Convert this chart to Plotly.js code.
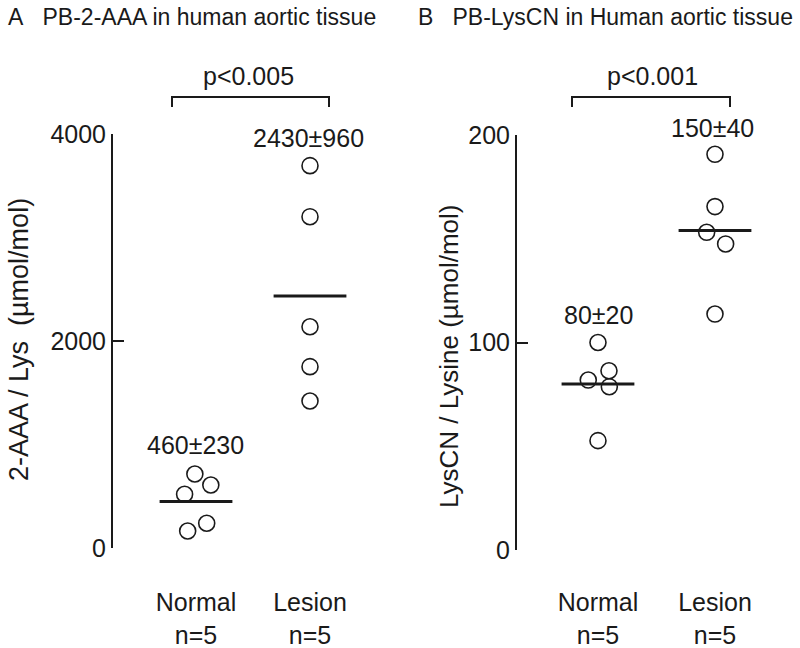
<!DOCTYPE html>
<html>
<head>
<meta charset="utf-8">
<script src="https://cdn.plot.ly/plotly-3.0.1.min.js"></script>
<style>html,body{margin:0;padding:0;background:#fff;}#chart{width:800px;height:648px;}</style>
</head>
<body>
<div id="chart"></div>
<script>
// ---- data ----
var categories = ["Normal", "Lesion"];
var categoryLabels = ["Normal<br>n=5", "Lesion<br>n=5"];

// Panel A: 2-AAA / Lys (µmol/mol)
var aNormal = [715, 609, 519, 239, 164];
var aNormalJitter = [-0.01, 0.13, -0.10, 0.094, -0.073];
var aLesion = [3694, 3201, 2138, 1752, 1420];
var aLesionJitter = [0, 0, 0, 0, 0];
var aMeans = [450, 2435];
var aMeanLabels = ["460±230", "2430±960"];
var aTicks = [0, 2000, 4000];
var aP = "p<0.005";

// Panel B: LysCN / Lysine (µmol/mol)
var bNormal = [100, 86.4, 81.9, 78.7, 52.7];
var bNormalJitter = [0, 0.094, -0.083, 0.097, 0];
var bLesion = [190.7, 165.5, 153.1, 147.5, 113.7];
var bLesionJitter = [0, 0, -0.071, 0.091, 0];
var bMeans = [80, 154];
var bMeanLabels = ["80±20", "150±40"];
var bTicks = [0, 100, 200];
var bP = "p<0.001";

// ---- helpers ----
var W = 800, H = 648;
function px(x){ return x / W; }
function py(y){ return 1 - y / H; }
function pos(idx, jit){ return jit.map(function(j){ return idx + j; }); }

var FONT = "Liberation Sans, Arial, Helvetica, sans-serif";
var INK = "#1a1a1a";
var FS = 25;

function pointsTrace(vals, idx, jit, xa, ya){
  return {
    type: "scatter", mode: "markers", x: pos(idx, jit), y: vals,
    xaxis: xa, yaxis: ya, cliponaxis: false, hoverinfo: "skip",
    marker: {symbol: "circle-open", size: 16, color: INK, line: {width: 1.6, color: INK}}
  };
}
function meanTrace(means, xa, ya){
  return {
    type: "scatter", mode: "markers", x: [1, 2], y: means,
    xaxis: xa, yaxis: ya, cliponaxis: false, hoverinfo: "skip",
    marker: {symbol: "line-ew", size: 52, color: INK, line: {width: 3, color: INK}}
  };
}

var traces = [
  pointsTrace(aNormal, 1, aNormalJitter, "x", "y"),
  pointsTrace(aLesion, 2, aLesionJitter, "x", "y"),
  meanTrace(aMeans, "x", "y"),
  pointsTrace(bNormal, 1, bNormalJitter, "x2", "y2"),
  pointsTrace(bLesion, 2, bLesionJitter, "x2", "y2"),
  meanTrace(bMeans, "x2", "y2")
];

function yAxis(range, ticks, dom, anchor){
  return {
    domain: dom, range: range, anchor: anchor, fixedrange: true,
    showline: true, linecolor: INK, linewidth: 2,
    ticks: "inside", ticklen: 11, tickwidth: 2, tickcolor: INK,
    tickvals: ticks, ticktext: ticks.map(String),
    showgrid: false, zeroline: false,
    tickfont: {family: FONT, size: FS, color: INK}
  };
}
function xAxis(range, dom, anchor, standoff){
  return {
    domain: dom, range: range, anchor: anchor, fixedrange: true,
    showline: false, ticks: "", showgrid: false, zeroline: false,
    tickvals: [1, 2], ticktext: categoryLabels,
    ticklabelstandoff: standoff,
    tickfont: {family: FONT, size: FS, color: INK}
  };
}

function txt(text, x, y, size, extra){
  var a = {text: text, x: px(x), y: py(y), xref: "paper", yref: "paper",
    showarrow: false, xanchor: "center", yanchor: "middle",
    font: {family: FONT, size: size, color: INK}};
  for (var k in extra) a[k] = extra[k];
  return a;
}

var annotations = [
  txt("A\u00A0\u00A0\u00A0PB-2-AAA in human aortic tissue", 6, 17, 23, {xanchor: "left"}),
  txt("B\u00A0\u00A0\u00A0PB-LysCN in Human aortic tissue", 416, 17, 23, {xanchor: "left"}),
  txt(aP, 248, 76, FS),
  txt(bP, 652, 76, FS),
  txt(aMeanLabels[0], 195, 445, FS),
  txt(aMeanLabels[1], 308, 138, FS),
  txt(bMeanLabels[0], 598, 315, FS),
  txt(bMeanLabels[1], 712, 128, FS),
  txt("2-AAA / Lys\u00A0\u00A0(µmol/mol)", 19, 340, 27, {textangle: -90}),
  txt("LysCN / Lysine (µmol/mol)", 449, 357, 26, {textangle: -90})
];

function bracket(x0, x1, yTop, yBot){
  return {type: "path", xref: "paper", yref: "paper",
    path: "M" + px(x0) + "," + py(yBot) + " L" + px(x0) + "," + py(yTop) +
          " L" + px(x1) + "," + py(yTop) + " L" + px(x1) + "," + py(yBot),
    line: {color: INK, width: 2}};
}

var layout = {
  width: W, height: H, margin: {l: 0, r: 0, t: 0, b: 0},
  paper_bgcolor: "#fff", plot_bgcolor: "rgba(0,0,0,0)",
  showlegend: false,
  font: {family: FONT, color: INK},
  xaxis: xAxis([0.272, 2.614], [px(113), px(380)], "y", 37),
  yaxis: yAxis([0, 4000], aTicks, [py(548), py(134)], "x"),
  xaxis2: xAxis([0.308, 2.641], [px(517), px(790)], "y2", 35),
  yaxis2: yAxis([0, 200], bTicks, [py(550), py(135)], "x2"),
  annotations: annotations,
  shapes: [bracket(172, 329, 97, 107), bracket(572, 730, 97, 107)]
};

Plotly.newPlot("chart", traces, layout, {staticPlot: true, displayModeBar: false});
</script>
</body>
</html>
